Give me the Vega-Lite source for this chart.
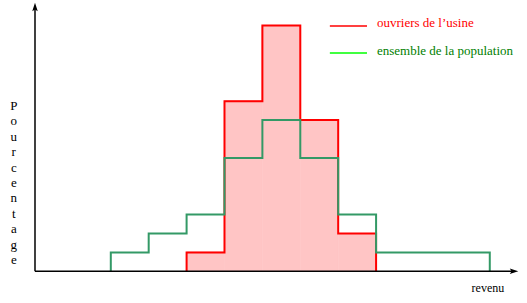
{
  "$schema": "https://vega.github.io/schema/vega-lite/v6.json",
  "width": 527,
  "height": 303,
  "autosize": {"type": "none"},
  "padding": 0,
  "background": "white",
  "config": {"view": {"stroke": null}},
  "datasets": {
    "ouvriers": [
      {"i": 0, "x": 4, "y": 0},
      {"i": 1, "x": 4, "y": 1},
      {"i": 2, "x": 5, "y": 9},
      {"i": 3, "x": 6, "y": 13},
      {"i": 4, "x": 7, "y": 8},
      {"i": 5, "x": 8, "y": 2},
      {"i": 6, "x": 9, "y": 0}
    ],
    "ensemble": [
      {"i": 0, "x": 2, "y": 0},
      {"i": 1, "x": 2, "y": 1},
      {"i": 2, "x": 3, "y": 2},
      {"i": 3, "x": 4, "y": 3},
      {"i": 4, "x": 5, "y": 6},
      {"i": 5, "x": 6, "y": 8},
      {"i": 6, "x": 7, "y": 6},
      {"i": 7, "x": 8, "y": 3},
      {"i": 8, "x": 9, "y": 1},
      {"i": 9, "x": 12, "y": 1},
      {"i": 10, "x": 12, "y": 0}
    ],
    "axes": [
      {"x": 0, "y": 0, "x2": 0, "y2": 13.9},
      {"x": 0, "y": 0, "x2": 12.6, "y2": 0}
    ],
    "arrows": [
      {"x": 0, "y": 13.95, "dir": "up"},
      {"x": 12.62, "y": 0, "dir": "right"}
    ],
    "legend": [
      {"x": 7.78, "x2": 8.76, "y": 12.98, "ly": 13.14, "color": "#ff0000", "tcolor": "#ff0000", "label": "ouvriers de l\u2019usine"},
      {"x": 7.78, "x2": 8.76, "y": 11.55, "ly": 11.68, "color": "#00ff00", "tcolor": "#008000", "label": "ensemble de la population"}
    ],
    "revenu": [
      {"x": 11.95, "y": -0.88, "label": "revenu"}
    ],
    "pourcentage": [
      {"x": -0.56, "y": 9.06, "label": "P\no\nu\nr\nc\ne\nn\nt\na\ng\ne"}
    ]
  },
  "layer": [
    {
      "data": {"name": "ouvriers"},
      "mark": {"type": "area", "interpolate": "step-after", "fill": "#ffc5c5", "stroke": "#ffc5c5", "strokeWidth": 0.5},
      "encoding": {
        "x": {"field": "x", "type": "quantitative", "scale": {"domain": [-0.9235, 12.982], "nice": false, "zero": false}, "axis": null},
        "y": {"field": "y", "type": "quantitative", "scale": {"domain": [-1.677, 14.354], "nice": false, "zero": false}, "axis": null},
        "order": {"field": "i"}
      }
    },
    {
      "data": {"name": "ouvriers"},
      "mark": {"type": "line", "interpolate": "step-after", "color": "#ff0000", "strokeWidth": 2},
      "encoding": {
        "x": {"field": "x", "type": "quantitative"},
        "y": {"field": "y", "type": "quantitative"},
        "order": {"field": "i"}
      }
    },
    {
      "data": {"name": "ensemble"},
      "mark": {"type": "line", "interpolate": "step-after", "color": "#339966", "strokeWidth": 2},
      "encoding": {
        "x": {"field": "x", "type": "quantitative"},
        "y": {"field": "y", "type": "quantitative"},
        "order": {"field": "i"}
      }
    },
    {
      "data": {"name": "axes"},
      "mark": {"type": "rule", "color": "black", "strokeWidth": 1.5},
      "encoding": {
        "x": {"field": "x", "type": "quantitative"},
        "y": {"field": "y", "type": "quantitative"},
        "x2": {"field": "x2"},
        "y2": {"field": "y2"}
      }
    },
    {
      "data": {"name": "arrows"},
      "mark": {"type": "point", "filled": true, "color": "black", "size": 100, "opacity": 1},
      "encoding": {
        "x": {"field": "x", "type": "quantitative"},
        "y": {"field": "y", "type": "quantitative"},
        "shape": {"field": "dir", "type": "nominal", "scale": {"domain": ["up", "right"], "range": ["M0,-1L0.55,0.7L0,0.35L-0.55,0.7Z", "M1,0L-0.7,0.55L-0.35,0L-0.7,-0.55Z"]}, "legend": null}
      }
    },
    {
      "data": {"name": "legend"},
      "mark": {"type": "rule", "strokeWidth": 1.5},
      "encoding": {
        "x": {"field": "x", "type": "quantitative"},
        "x2": {"field": "x2"},
        "y": {"field": "y", "type": "quantitative"},
        "color": {"field": "color", "type": "nominal", "scale": null}
      }
    },
    {
      "data": {"name": "legend"},
      "mark": {"type": "text", "align": "left", "baseline": "middle", "font": "Liberation Serif", "fontSize": 13, "letterSpacing": 0.3, "dx": 10},
      "encoding": {
        "x": {"field": "x2", "type": "quantitative"},
        "y": {"field": "ly", "type": "quantitative"},
        "text": {"field": "label"},
        "color": {"field": "tcolor", "type": "nominal", "scale": null}
      }
    },
    {
      "data": {"name": "revenu"},
      "mark": {"type": "text", "align": "center", "baseline": "middle", "font": "Liberation Serif", "fontSize": 12, "letterSpacing": 0.5, "color": "black"},
      "encoding": {
        "x": {"field": "x", "type": "quantitative"},
        "y": {"field": "y", "type": "quantitative"},
        "text": {"field": "label"}
      }
    },
    {
      "data": {"name": "pourcentage"},
      "mark": {"type": "text", "align": "center", "baseline": "top", "font": "Liberation Serif", "fontSize": 13, "lineBreak": "\n", "lineHeight": 15.4, "color": "black"},
      "encoding": {
        "x": {"field": "x", "type": "quantitative"},
        "y": {"field": "y", "type": "quantitative"},
        "text": {"field": "label"}
      }
    }
  ]
}
